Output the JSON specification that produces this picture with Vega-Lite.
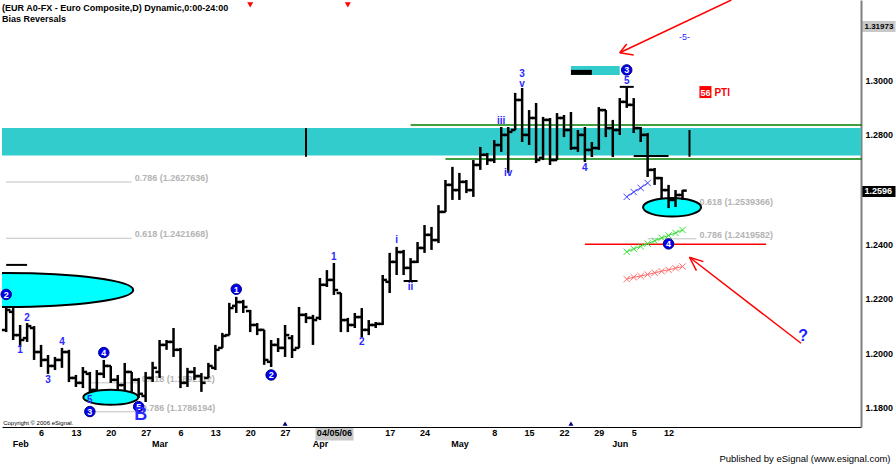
{
"$schema": "https://vega.github.io/schema/vega-lite/v6.json",
"width": 859, "height": 427,
"autosize": "none",
"padding": {"left": 2, "top": 0, "right": 35, "bottom": 38},
"background": "white",
"config": {"view": {"stroke": null}, "font": "Liberation Sans"},
"title": {"text": "(EUR A0-FX - Euro Composite,D) Dynamic,0:00-24:00", "subtitle": "Bias Reversals", "anchor": "start", "frame": "group", "orient": "top", "offset": -27, "font": "Liberation Sans", "fontSize": 9, "fontWeight": "bold", "color": "black", "subtitleFont": "Liberation Sans", "subtitleFontSize": 9, "subtitleFontWeight": "bold", "subtitleColor": "black", "subtitlePadding": 2},
"resolve": {"axis": {"x": "independent"}},
"datasets": {
"bars": [
{"d":"2006-01-30","o":1.2086,"h":1.2196,"l":1.2078,"c":1.2159},
{"d":"2006-01-31","o":1.2152,"h":1.2166,"l":1.2049,"c":1.2067},
{"d":"2006-02-01","o":1.2067,"h":1.2104,"l":1.2024,"c":1.2049},
{"d":"2006-02-02","o":1.2056,"h":1.2111,"l":1.2042,"c":1.2100},
{"d":"2006-02-03","o":1.2093,"h":1.2100,"l":1.1976,"c":1.2005},
{"d":"2006-02-06","o":1.2005,"h":1.2031,"l":1.1950,"c":1.1976},
{"d":"2006-02-07","o":1.1976,"h":1.1994,"l":1.1925,"c":1.1954},
{"d":"2006-02-08","o":1.1954,"h":1.1987,"l":1.1939,"c":1.1976},
{"d":"2006-02-09","o":1.1976,"h":1.2020,"l":1.1947,"c":1.2005},
{"d":"2006-02-10","o":1.2005,"h":1.2013,"l":1.1895,"c":1.1910},
{"d":"2006-02-13","o":1.1910,"h":1.1921,"l":1.1877,"c":1.1892},
{"d":"2006-02-14","o":1.1892,"h":1.1950,"l":1.1873,"c":1.1932},
{"d":"2006-02-15","o":1.1925,"h":1.1932,"l":1.1841,"c":1.1866},
{"d":"2006-02-16","o":1.1866,"h":1.1939,"l":1.1859,"c":1.1925},
{"d":"2006-02-17","o":1.1925,"h":1.1976,"l":1.1910,"c":1.1954},
{"d":"2006-02-20","o":1.1954,"h":1.1954,"l":1.1892,"c":1.1903},
{"d":"2006-02-21","o":1.1903,"h":1.1921,"l":1.1866,"c":1.1884},
{"d":"2006-02-22","o":1.1884,"h":1.1965,"l":1.1866,"c":1.1932},
{"d":"2006-02-23","o":1.1932,"h":1.1932,"l":1.1859,"c":1.1903},
{"d":"2006-02-24","o":1.1903,"h":1.1910,"l":1.1837,"c":1.1852},
{"d":"2006-02-27","o":1.1844,"h":1.1932,"l":1.1822,"c":1.1910},
{"d":"2006-02-28","o":1.1910,"h":1.1969,"l":1.1895,"c":1.1947},
{"d":"2006-03-01","o":1.1932,"h":1.2049,"l":1.1910,"c":1.2031},
{"d":"2006-03-02","o":1.2031,"h":1.2049,"l":1.2013,"c":1.2042},
{"d":"2006-03-03","o":1.2042,"h":1.2093,"l":1.1987,"c":1.2013},
{"d":"2006-03-06","o":1.2013,"h":1.2020,"l":1.1873,"c":1.1892},
{"d":"2006-03-07","o":1.1892,"h":1.1947,"l":1.1877,"c":1.1932},
{"d":"2006-03-08","o":1.1932,"h":1.1950,"l":1.1903,"c":1.1917},
{"d":"2006-03-09","o":1.1917,"h":1.1928,"l":1.1859,"c":1.1892},
{"d":"2006-03-10","o":1.1910,"h":1.1965,"l":1.1910,"c":1.1954},
{"d":"2006-03-13","o":1.1947,"h":1.2031,"l":1.1939,"c":1.2013},
{"d":"2006-03-14","o":1.2020,"h":1.2075,"l":1.2020,"c":1.2064},
{"d":"2006-03-15","o":1.2067,"h":1.2185,"l":1.2067,"c":1.2166},
{"d":"2006-03-16","o":1.2174,"h":1.2207,"l":1.2148,"c":1.2188},
{"d":"2006-03-17","o":1.2188,"h":1.2196,"l":1.2148,"c":1.2170},
{"d":"2006-03-20","o":1.2155,"h":1.2159,"l":1.2078,"c":1.2104},
{"d":"2006-03-21","o":1.2104,"h":1.2111,"l":1.2067,"c":1.2086},
{"d":"2006-03-22","o":1.2086,"h":1.2086,"l":1.1958,"c":1.1976},
{"d":"2006-03-23","o":1.1969,"h":1.2049,"l":1.1950,"c":1.2031},
{"d":"2006-03-24","o":1.2031,"h":1.2056,"l":1.2005,"c":1.2020},
{"d":"2006-03-27","o":1.2020,"h":1.2104,"l":1.1987,"c":1.2067},
{"d":"2006-03-28","o":1.2056,"h":1.2067,"l":1.1983,"c":1.2013},
{"d":"2006-03-29","o":1.2020,"h":1.2170,"l":1.2020,"c":1.2141},
{"d":"2006-03-30","o":1.2141,"h":1.2148,"l":1.2111,"c":1.2130},
{"d":"2006-03-31","o":1.2130,"h":1.2141,"l":1.2031,"c":1.2122},
{"d":"2006-04-03","o":1.2130,"h":1.2276,"l":1.2122,"c":1.2251},
{"d":"2006-04-04","o":1.2251,"h":1.2305,"l":1.2243,"c":1.2269},
{"d":"2006-04-05","o":1.2269,"h":1.2331,"l":1.2214,"c":1.2232},
{"d":"2006-04-06","o":1.2221,"h":1.2221,"l":1.2078,"c":1.2122},
{"d":"2006-04-07","o":1.2122,"h":1.2130,"l":1.2078,"c":1.2104},
{"d":"2006-04-10","o":1.2104,"h":1.2148,"l":1.2093,"c":1.2133},
{"d":"2006-04-11","o":1.2133,"h":1.2166,"l":1.2060,"c":1.2086},
{"d":"2006-04-12","o":1.2086,"h":1.2122,"l":1.2067,"c":1.2104},
{"d":"2006-04-13","o":1.2104,"h":1.2115,"l":1.2093,"c":1.2108},
{"d":"2006-04-14","o":1.2108,"h":1.2287,"l":1.2104,"c":1.2269},
{"d":"2006-04-17","o":1.2262,"h":1.2368,"l":1.2221,"c":1.2335},
{"d":"2006-04-18","o":1.2335,"h":1.2390,"l":1.2287,"c":1.2371},
{"d":"2006-04-19","o":1.2371,"h":1.2379,"l":1.2287,"c":1.2313},
{"d":"2006-04-20","o":1.2313,"h":1.2349,"l":1.2262,"c":1.2335},
{"d":"2006-04-21","o":1.2335,"h":1.2408,"l":1.2331,"c":1.2386},
{"d":"2006-04-24","o":1.2386,"h":1.2470,"l":1.2368,"c":1.2434},
{"d":"2006-04-25","o":1.2434,"h":1.2463,"l":1.2379,"c":1.2415},
{"d":"2006-04-26","o":1.2415,"h":1.2543,"l":1.2404,"c":1.2518},
{"d":"2006-04-27","o":1.2518,"h":1.2635,"l":1.2518,"c":1.2617},
{"d":"2006-04-28","o":1.2617,"h":1.2683,"l":1.2562,"c":1.2598},
{"d":"2006-05-01","o":1.2598,"h":1.2661,"l":1.2562,"c":1.2628},
{"d":"2006-05-02","o":1.2628,"h":1.2635,"l":1.2587,"c":1.2598},
{"d":"2006-05-03","o":1.2598,"h":1.2708,"l":1.2573,"c":1.2690},
{"d":"2006-05-04","o":1.2690,"h":1.2756,"l":1.2672,"c":1.2727},
{"d":"2006-05-05","o":1.2727,"h":1.2734,"l":1.2690,"c":1.2708},
{"d":"2006-05-08","o":1.2708,"h":1.2781,"l":1.2697,"c":1.2763},
{"d":"2006-05-09","o":1.2763,"h":1.2829,"l":1.2738,"c":1.2800},
{"d":"2006-05-10","o":1.2800,"h":1.2829,"l":1.2661,"c":1.2811},
{"d":"2006-05-11","o":1.2818,"h":1.2954,"l":1.2818,"c":1.2928},
{"d":"2006-05-12","o":1.2928,"h":1.2972,"l":1.2774,"c":1.2800},
{"d":"2006-05-15","o":1.2800,"h":1.2891,"l":1.2763,"c":1.2862},
{"d":"2006-05-16","o":1.2862,"h":1.2917,"l":1.2697,"c":1.2708},
{"d":"2006-05-17","o":1.2716,"h":1.2866,"l":1.2708,"c":1.2855},
{"d":"2006-05-18","o":1.2855,"h":1.2862,"l":1.2690,"c":1.2708},
{"d":"2006-05-19","o":1.2708,"h":1.2880,"l":1.2708,"c":1.2862},
{"d":"2006-05-22","o":1.2862,"h":1.2873,"l":1.2792,"c":1.2818},
{"d":"2006-05-23","o":1.2818,"h":1.2884,"l":1.2745,"c":1.2752},
{"d":"2006-05-24","o":1.2752,"h":1.2818,"l":1.2738,"c":1.2800},
{"d":"2006-05-25","o":1.2800,"h":1.2829,"l":1.2701,"c":1.2745},
{"d":"2006-05-26","o":1.2745,"h":1.2774,"l":1.2719,"c":1.2752},
{"d":"2006-05-29","o":1.2752,"h":1.2902,"l":1.2745,"c":1.2891},
{"d":"2006-05-30","o":1.2891,"h":1.2891,"l":1.2792,"c":1.2825},
{"d":"2006-05-31","o":1.2825,"h":1.2855,"l":1.2719,"c":1.2818},
{"d":"2006-06-01","o":1.2818,"h":1.2935,"l":1.2800,"c":1.2921},
{"d":"2006-06-02","o":1.2921,"h":1.2976,"l":1.2899,"c":1.2910},
{"d":"2006-06-05","o":1.2910,"h":1.2935,"l":1.2807,"c":1.2825},
{"d":"2006-06-06","o":1.2825,"h":1.2829,"l":1.2774,"c":1.2800},
{"d":"2006-06-07","o":1.2800,"h":1.2807,"l":1.2646,"c":1.2672},
{"d":"2006-06-08","o":1.2672,"h":1.2679,"l":1.2617,"c":1.2642},
{"d":"2006-06-09","o":1.2642,"h":1.2646,"l":1.2569,"c":1.2598},
{"d":"2006-06-12","o":1.2598,"h":1.2617,"l":1.2532,"c":1.2562},
{"d":"2006-06-13","o":1.2562,"h":1.2598,"l":1.2536,"c":1.2580},
{"d":"2006-06-14","o":1.2580,"h":1.2598,"l":1.2562,"c":1.2596}
],
"band": [{"lo": 1.2725, "hi": 1.2825}],
"green": [{"d":"2006-04-20","p":1.2836},{"d":"2006-04-27","p":1.2712}],
"fib": [
{"d":"2006-01-30","d2":"2006-02-23","p":1.2627636,"t":"0.786 (1.2627636)"},
{"d":"2006-01-30","d2":"2006-02-23","p":1.2421668,"t":"0.618 (1.2421668)"},
{"d":"2006-02-15","d2":"2006-02-24","p":1.1892112,"t":"0.618 (1.1892112)"},
{"d":"2006-02-15","d2":"2006-02-24","p":1.1786194,"t":"0.786 (1.1786194)"},
{"d":"2006-06-07","d2":"2006-06-16","p":1.2539366,"t":"0.618 (1.2539366)"},
{"d":"2006-06-07","d2":"2006-06-16","p":1.2419582,"t":"0.786 (1.2419582)"}
],
"redline": [{"d":"2006-05-25","d2":"2006-06-30","p":1.2400}],
"hblack": [
{"d":"2006-01-30","d2":"2006-02-02","p":1.2324},
{"d":"2006-04-19","d2":"2006-04-21","p":1.2265},
{"d":"2006-06-01","d2":"2006-06-05","p":1.2976},
{"d":"2006-06-05","d2":"2006-06-12","p":1.2723}
],
"vblack": [{"d":"2006-03-30","lo":1.2720,"hi":1.2825},{"d":"2006-06-15","lo":1.2720,"hi":1.2818}],
"arrows": [
{"g":"a1","d":"2006-06-23","p":1.3294},{"g":"a1","d":"2006-06-01","p":1.3101},
{"g":"a2","d":"2006-06-01","p":1.3101},{"g":"a2","d":"2006-06-02","p":1.3133},
{"g":"a3","d":"2006-06-01","p":1.3101},{"g":"a3","d":"2006-06-05","p":1.3093},
{"g":"b1","d":"2006-07-07","p":1.2037},{"g":"b1","d":"2006-06-15","p":1.2352},
{"g":"b2","d":"2006-06-15","p":1.2352},{"g":"b2","d":"2006-06-19","p":1.2336},
{"g":"b3","d":"2006-06-15","p":1.2352},{"g":"b3","d":"2006-06-16","p":1.2303}
],
"xmarks": [
{"s":"b","d":"2006-06-02","p":1.2573},{"s":"b","d":"2006-06-05","p":1.2591},{"s":"b","d":"2006-06-06","p":1.2606},{"s":"b","d":"2006-06-07","p":1.2624},
{"s":"g","d":"2006-06-02","p":1.2372},{"s":"g","d":"2006-06-05","p":1.2383},{"s":"g","d":"2006-06-06","p":1.2392},{"s":"g","d":"2006-06-07","p":1.2402},{"s":"g","d":"2006-06-08","p":1.2412},{"s":"g","d":"2006-06-09","p":1.2423},{"s":"g","d":"2006-06-12","p":1.2432},{"s":"g","d":"2006-06-13","p":1.2441},{"s":"g","d":"2006-06-14","p":1.2452},
{"s":"r","d":"2006-06-02","p":1.2272},{"s":"r","d":"2006-06-05","p":1.2279},{"s":"r","d":"2006-06-06","p":1.2283},{"s":"r","d":"2006-06-07","p":1.2289},{"s":"r","d":"2006-06-08","p":1.2295},{"s":"r","d":"2006-06-09","p":1.2301},{"s":"r","d":"2006-06-12","p":1.2306},{"s":"r","d":"2006-06-13","p":1.2312},{"s":"r","d":"2006-06-14","p":1.2318}
],
"ellLeft": [{"d":"2006-01-30","p":1.2232}],
"ellB": [{"d":"2006-02-20","p":1.1839}],
"ellRight": [{"d":"2006-06-12","p":1.2535}],
"topbox": [{"d":"2006-05-23","d2":"2006-06-01","p":1.3036}],
"topblack": [{"d":"2006-05-23","d2":"2006-05-26","p":1.3029}],
"circ": [
{"d":"2006-01-30","p":1.2216,"t":"2"},
{"d":"2006-02-17","p":1.2003,"t":"4"},
{"d":"2006-02-15","p":1.1787,"t":"3"},
{"d":"2006-02-24","p":1.1805,"t":"5"},
{"d":"2006-03-16","p":1.2235,"t":"1"},
{"d":"2006-03-23","p":1.1921,"t":"2"},
{"d":"2006-06-02","p":1.3038,"t":"3"},
{"d":"2006-06-12","p":1.2401,"t":"4"}
],
"waves": [
{"d":"2006-02-01","p":1.2013,"t":"1"},
{"d":"2006-02-02","p":1.2129,"t":"2"},
{"d":"2006-02-07","p":1.1903,"t":"3"},
{"d":"2006-02-09","p":1.2043,"t":"4"},
{"d":"2006-02-15","p":1.1829,"t":"5"},
{"d":"2006-04-05","p":1.2352,"t":"1"},
{"d":"2006-04-11","p":1.2043,"t":"2"},
{"d":"2006-04-18","p":1.2415,"t":"i"},
{"d":"2006-04-20","p":1.2244,"t":"ii"},
{"d":"2006-05-09","p":1.2852,"t":"iii"},
{"d":"2006-05-10","p":1.2660,"t":"iv"},
{"d":"2006-05-12","p":1.3023,"t":"3"},
{"d":"2006-05-12","p":1.2987,"t":"v"},
{"d":"2006-05-25","p":1.2678,"t":"4"},
{"d":"2006-06-02","p":1.2998,"t":"5"}
],
"bigB": [{"d":"2006-02-24","p":1.1773,"t":"B"}],
"qmark": [{"d":"2006-07-07","p":1.2062,"t":"?"}],
"five": [{"d":"2006-06-14","p":1.3160,"t":"-5-"}],
"pti": [{"d":"2006-06-19","p":1.2957,"n":"56","t":"PTI"}],
"copy": [{"d":"2006-01-30","p":1.1745,"t":"Copyright © 2006 eSignal."}],
"redTri": [{"d":"2006-03-20","p":1.3276},{"d":"2006-04-07","p":1.3276}],
"navyTri": [{"d":"2006-03-27","p":1.1743},{"d":"2006-05-23","p":1.1743}]
},
"layer": [
{"data": {"name": "band"}, "mark": {"type": "rect", "color": "#33cccc"},
 "encoding": {"y": {"field": "lo", "type": "quantitative"}, "y2": {"field": "hi"}}},
{"data": {"name": "green"}, "mark": {"type": "rule", "color": "#008000", "strokeWidth": 1.5, "x2Offset": 5},
 "encoding": {"x": {"field": "d", "type": "ordinal", "axis": null}, "x2": {"datum": "2006-07-19"}, "y": {"field": "p", "type": "quantitative"}}},
{"data": {"name": "fib"}, "mark": {"type": "rule", "color": "#c0c0c0", "strokeWidth": 1},
 "encoding": {"x": {"field": "d", "type": "ordinal", "axis": null}, "x2": {"field": "d2"}, "y": {"field": "p", "type": "quantitative"}}},
{"data": {"name": "fib"}, "mark": {"type": "text", "align": "left", "baseline": "middle", "dx": 3, "dy": -4, "font": "Liberation Sans", "fontSize": 9, "fontWeight": "bold", "color": "#b4b4b4"},
 "encoding": {"x": {"field": "d2", "type": "ordinal", "axis": null}, "y": {"field": "p", "type": "quantitative"}, "text": {"field": "t"}}},
{"data": {"name": "redline"}, "mark": {"type": "rule", "color": "#ff0000", "strokeWidth": 1.5},
 "encoding": {"x": {"field": "d", "type": "ordinal", "axis": null}, "x2": {"field": "d2"}, "y": {"field": "p", "type": "quantitative"}}},
{"data": {"name": "ellRight"}, "mark": {"type": "point", "shape": "M-1,0C-1,-0.1771,-0.5523,-0.3207,0,-0.3207C0.5523,-0.3207,1,-0.1771,1,0C1,0.1771,0.5523,0.3207,0,0.3207C-0.5523,0.3207,-1,0.1771,-1,0Z", "size": 3364, "filled": true, "fill": "#00ffff", "stroke": "black", "strokeWidth": 2, "opacity": 1, "xOffset": 3.5},
 "encoding": {"x": {"field": "d", "type": "ordinal", "axis": null}, "y": {"field": "p", "type": "quantitative"}}},
{"data": {"name": "vblack"}, "mark": {"type": "rule", "color": "black", "strokeWidth": 2},
 "encoding": {"x": {"field": "d", "type": "ordinal", "axis": null}, "y": {"field": "lo", "type": "quantitative"}, "y2": {"field": "hi"}}},
{"data": {"name": "bars"}, "mark": {"type": "rule", "color": "black", "strokeWidth": 2.5},
 "encoding": {
  "x": {"field": "d", "type": "ordinal",
   "scale": {"type": "point", "padding": 0.6, "domain": ["2006-01-30","2006-01-31","2006-02-01","2006-02-02","2006-02-03","2006-02-06","2006-02-07","2006-02-08","2006-02-09","2006-02-10","2006-02-13","2006-02-14","2006-02-15","2006-02-16","2006-02-17","2006-02-20","2006-02-21","2006-02-22","2006-02-23","2006-02-24","2006-02-27","2006-02-28","2006-03-01","2006-03-02","2006-03-03","2006-03-06","2006-03-07","2006-03-08","2006-03-09","2006-03-10","2006-03-13","2006-03-14","2006-03-15","2006-03-16","2006-03-17","2006-03-20","2006-03-21","2006-03-22","2006-03-23","2006-03-24","2006-03-27","2006-03-28","2006-03-29","2006-03-30","2006-03-31","2006-04-03","2006-04-04","2006-04-05","2006-04-06","2006-04-07","2006-04-10","2006-04-11","2006-04-12","2006-04-13","2006-04-14","2006-04-17","2006-04-18","2006-04-19","2006-04-20","2006-04-21","2006-04-24","2006-04-25","2006-04-26","2006-04-27","2006-04-28","2006-05-01","2006-05-02","2006-05-03","2006-05-04","2006-05-05","2006-05-08","2006-05-09","2006-05-10","2006-05-11","2006-05-12","2006-05-15","2006-05-16","2006-05-17","2006-05-18","2006-05-19","2006-05-22","2006-05-23","2006-05-24","2006-05-25","2006-05-26","2006-05-29","2006-05-30","2006-05-31","2006-06-01","2006-06-02","2006-06-05","2006-06-06","2006-06-07","2006-06-08","2006-06-09","2006-06-12","2006-06-13","2006-06-14","2006-06-15","2006-06-16","2006-06-19","2006-06-20","2006-06-21","2006-06-22","2006-06-23","2006-06-26","2006-06-27","2006-06-28","2006-06-29","2006-06-30","2006-07-03","2006-07-04","2006-07-05","2006-07-06","2006-07-07","2006-07-10","2006-07-11","2006-07-12","2006-07-13","2006-07-14","2006-07-17","2006-07-18","2006-07-19"]},
   "axis": {
    "orient": "bottom",
    "values": ["2006-02-01","2006-02-06","2006-02-13","2006-02-20","2006-02-27","2006-03-01","2006-03-06","2006-03-13","2006-03-20","2006-03-27","2006-04-03","2006-04-05","2006-04-17","2006-04-24","2006-05-01","2006-05-08","2006-05-15","2006-05-22","2006-05-29","2006-06-01","2006-06-05","2006-06-12"],
    "labelExpr": "datum.value == '2006-04-05' ? '04/05/06' : (indexof(['2006-02-01','2006-03-01','2006-04-03','2006-05-01','2006-06-01'], datum.value) >= 0 ? [' ', utcFormat(toDate(datum.value), '%b')] : utcFormat(toDate(datum.value), '%-d'))",
    "labelAngle": 0, "labelAlign": "center", "labelBaseline": "top",
    "labelFont": "Liberation Sans", "labelFontSize": 9, "labelFontWeight": "bold", "labelColor": "black",
    "labelPadding": {"condition": {"test": "datum.value == '2006-04-05'", "value": -12}, "value": 1},
    "labelLineHeight": 11, "labelOverlap": false, "labelBound": false, "labelFlush": false,
    "domainColor": "black", "domainWidth": 1,
    "ticks": true,
    "tickSize": {"condition": {"test": "datum.value == '2006-04-05'", "value": 13}, "value": 0},
    "tickWidth": 38,
    "tickColor": {"condition": {"test": "datum.value == '2006-04-05'", "value": "#c8c8c8"}, "value": "transparent"},
    "grid": false, "title": null
   }},
  "y": {"field": "l", "type": "quantitative",
   "scale": {"domain": [1.17304, 1.32941], "nice": false, "zero": false},
   "axis": {"orient": "right",
    "values": [1.18, 1.19, 1.2, 1.21, 1.22, 1.23, 1.24, 1.25, 1.2596, 1.27, 1.28, 1.29, 1.3, 1.31, 1.31973],
    "labelExpr": "format(datum.value, datum.value > 1.315 ? '.5f' : '.4f')",
    "labelFont": "Liberation Sans", "labelFontWeight": "bold",
    "labelFontSize": {"condition": {"test": "datum.value > 1.315", "value": 8}, "value": 9},
    "labelColor": {"condition": {"test": "datum.value == 1.2596", "value": "white"}, "value": "black"},
    "labelPadding": {"condition": {"test": "datum.value == 1.2596 || datum.value == 1.31973", "value": -31}, "value": 4},
    "labelOverlap": false, "labelBound": false, "labelFlush": false,
    "ticks": true,
    "tickSize": {"condition": {"test": "datum.value == 1.2596 || datum.value == 1.31973", "value": 34}, "value": 0},
    "tickWidth": 11,
    "tickColor": {"condition": {"test": "datum.value == 1.2596", "value": "black"}, "value": "#c8c8c8"},
    "domainColor": "#808080", "domainWidth": 2, "grid": false, "title": null}},
  "y2": {"field": "h"}}},
{"data": {"name": "bars"}, "mark": {"type": "tick", "orient": "horizontal", "color": "black", "size": 4.5, "thickness": 2.5, "xOffset": -2, "opacity": 1},
 "encoding": {"x": {"field": "d", "type": "ordinal", "axis": null}, "y": {"field": "o", "type": "quantitative"}}},
{"data": {"name": "bars"}, "mark": {"type": "tick", "orient": "horizontal", "color": "black", "size": 4.5, "thickness": 2.5, "xOffset": 2, "opacity": 1},
 "encoding": {"x": {"field": "d", "type": "ordinal", "axis": null}, "y": {"field": "c", "type": "quantitative"}}},
{"data": {"name": "hblack"}, "mark": {"type": "rule", "color": "black", "strokeWidth": 2},
 "encoding": {"x": {"field": "d", "type": "ordinal", "axis": null}, "x2": {"field": "d2"}, "y": {"field": "p", "type": "quantitative"}}},
{"data": {"name": "ellLeft"}, "mark": {"type": "point", "clip": true, "shape": "M-1,0C-1,-0.074,-0.5523,-0.1339,0,-0.1339C0.5523,-0.1339,1,-0.074,1,0C1,0.074,0.5523,0.1339,0,0.1339C-0.5523,0.1339,-1,0.074,-1,0Z", "size": 64516, "filled": true, "fill": "#00ffff", "stroke": "black", "strokeWidth": 2, "opacity": 1},
 "encoding": {"x": {"field": "d", "type": "ordinal", "axis": null}, "y": {"field": "p", "type": "quantitative"}}},
{"data": {"name": "ellB"}, "mark": {"type": "point", "shape": "M-1,0C-1,-0.1506,-0.5523,-0.2727,0,-0.2727C0.5523,-0.2727,1,-0.1506,1,0C1,0.1506,0.5523,0.2727,0,0.2727C-0.5523,0.2727,-1,0.1506,-1,0Z", "size": 3025, "filled": true, "fill": "#00ffff", "stroke": "black", "strokeWidth": 2, "opacity": 1},
 "encoding": {"x": {"field": "d", "type": "ordinal", "axis": null}, "y": {"field": "p", "type": "quantitative"}}},
{"data": {"name": "xmarks"}, "mark": {"type": "line", "strokeWidth": 1},
 "encoding": {"x": {"field": "d", "type": "ordinal", "axis": null}, "y": {"field": "p", "type": "quantitative"},
  "color": {"field": "s", "type": "nominal", "scale": {"domain": ["b","g","r"], "range": ["#4646ff","#33e033","#ff6a6a"]}, "legend": null}}},
{"data": {"name": "xmarks"}, "mark": {"type": "point", "shape": "M-1,-1L1,1M-1,1L1,-1", "size": 40, "filled": false, "strokeWidth": 1, "opacity": 1},
 "encoding": {"x": {"field": "d", "type": "ordinal", "axis": null}, "y": {"field": "p", "type": "quantitative"},
  "color": {"field": "s", "type": "nominal", "scale": {"domain": ["b","g","r"], "range": ["#4646ff","#33e033","#ff6a6a"]}, "legend": null}}},
{"data": {"name": "topbox"}, "mark": {"type": "rule", "color": "#33cccc", "strokeWidth": 9},
 "encoding": {"x": {"field": "d", "type": "ordinal", "axis": null}, "x2": {"field": "d2"}, "y": {"field": "p", "type": "quantitative"}}},
{"data": {"name": "topblack"}, "mark": {"type": "rule", "color": "black", "strokeWidth": 5},
 "encoding": {"x": {"field": "d", "type": "ordinal", "axis": null}, "x2": {"field": "d2"}, "y": {"field": "p", "type": "quantitative"}}},
{"data": {"name": "arrows"}, "mark": {"type": "line", "color": "#ff0000", "strokeWidth": 1.5},
 "encoding": {"x": {"field": "d", "type": "ordinal", "axis": null}, "y": {"field": "p", "type": "quantitative"}, "detail": {"field": "g"}}},
{"data": {"name": "circ"}, "mark": {"type": "point", "shape": "circle", "size": 110, "filled": true, "fill": "#0000ee", "stroke": "#000080", "strokeWidth": 1, "opacity": 1},
 "encoding": {"x": {"field": "d", "type": "ordinal", "axis": null}, "y": {"field": "p", "type": "quantitative"}}},
{"data": {"name": "circ"}, "mark": {"type": "text", "align": "center", "baseline": "middle", "dy": 0.5, "font": "Liberation Sans", "fontSize": 9, "fontWeight": "bold", "color": "white"},
 "encoding": {"x": {"field": "d", "type": "ordinal", "axis": null}, "y": {"field": "p", "type": "quantitative"}, "text": {"field": "t"}}},
{"data": {"name": "waves"}, "mark": {"type": "text", "align": "center", "baseline": "middle", "font": "Liberation Sans", "fontSize": 10, "fontWeight": "bold", "color": "#2a2aff"},
 "encoding": {"x": {"field": "d", "type": "ordinal", "axis": null}, "y": {"field": "p", "type": "quantitative"}, "text": {"field": "t"}}},
{"data": {"name": "bigB"}, "mark": {"type": "text", "align": "center", "baseline": "middle", "dx": 2, "font": "Liberation Sans", "fontSize": 18, "fontWeight": "bold", "color": "#2a2aff"},
 "encoding": {"x": {"field": "d", "type": "ordinal", "axis": null}, "y": {"field": "p", "type": "quantitative"}, "text": {"field": "t"}}},
{"data": {"name": "qmark"}, "mark": {"type": "text", "align": "center", "baseline": "middle", "dx": 2, "font": "Liberation Sans", "fontSize": 16, "fontWeight": "bold", "color": "#1e1eff"},
 "encoding": {"x": {"field": "d", "type": "ordinal", "axis": null}, "y": {"field": "p", "type": "quantitative"}, "text": {"field": "t"}}},
{"data": {"name": "five"}, "mark": {"type": "text", "align": "center", "baseline": "middle", "dx": 2, "font": "Liberation Sans", "fontSize": 9, "color": "#2a2aff"},
 "encoding": {"x": {"field": "d", "type": "ordinal", "axis": null}, "y": {"field": "p", "type": "quantitative"}, "text": {"field": "t"}}},
{"data": {"name": "pti"}, "mark": {"type": "point", "shape": "square", "size": 144, "filled": true, "color": "#ff0000", "opacity": 1, "xOffset": 2},
 "encoding": {"x": {"field": "d", "type": "ordinal", "axis": null}, "y": {"field": "p", "type": "quantitative"}}},
{"data": {"name": "pti"}, "mark": {"type": "text", "align": "center", "baseline": "middle", "dx": 2, "dy": 0.5, "font": "Liberation Sans", "fontSize": 9, "fontWeight": "bold", "color": "white"},
 "encoding": {"x": {"field": "d", "type": "ordinal", "axis": null}, "y": {"field": "p", "type": "quantitative"}, "text": {"field": "n"}}},
{"data": {"name": "pti"}, "mark": {"type": "text", "align": "left", "baseline": "middle", "dx": 11, "dy": 0.5, "font": "Liberation Sans", "fontSize": 10, "fontWeight": "bold", "color": "#ff0000"},
 "encoding": {"x": {"field": "d", "type": "ordinal", "axis": null}, "y": {"field": "p", "type": "quantitative"}, "text": {"field": "t"}}},
{"data": {"name": "copy"}, "mark": {"type": "text", "align": "left", "baseline": "middle", "dx": -3, "font": "Liberation Sans", "fontSize": 6, "color": "black"},
 "encoding": {"x": {"field": "d", "type": "ordinal",
   "axis": {"orient": "bottom", "offset": 24, "domain": false, "labels": false, "ticks": false, "grid": false, "zindex": 1,
    "title": "Published by eSignal (www.esignal.com)", "titleFont": "Liberation Sans", "titleFontSize": 9.5, "titleFontWeight": "normal", "titleColor": "black", "titleAnchor": "end", "titleAlign": "right", "titleBaseline": "middle", "titleX": 888, "titleY": 7}},
  "y": {"field": "p", "type": "quantitative"}, "text": {"field": "t"}}},
{"data": {"name": "redTri"}, "mark": {"type": "point", "shape": "triangle-down", "size": 36, "filled": true, "color": "#ff0000", "opacity": 1},
 "encoding": {"x": {"field": "d", "type": "ordinal", "axis": null}, "y": {"field": "p", "type": "quantitative"}}},
{"data": {"name": "navyTri"}, "mark": {"type": "point", "shape": "triangle-up", "size": 25, "filled": true, "color": "#000080", "opacity": 1},
 "encoding": {"x": {"field": "d", "type": "ordinal", "axis": null}, "y": {"field": "p", "type": "quantitative"}}}
]
}
